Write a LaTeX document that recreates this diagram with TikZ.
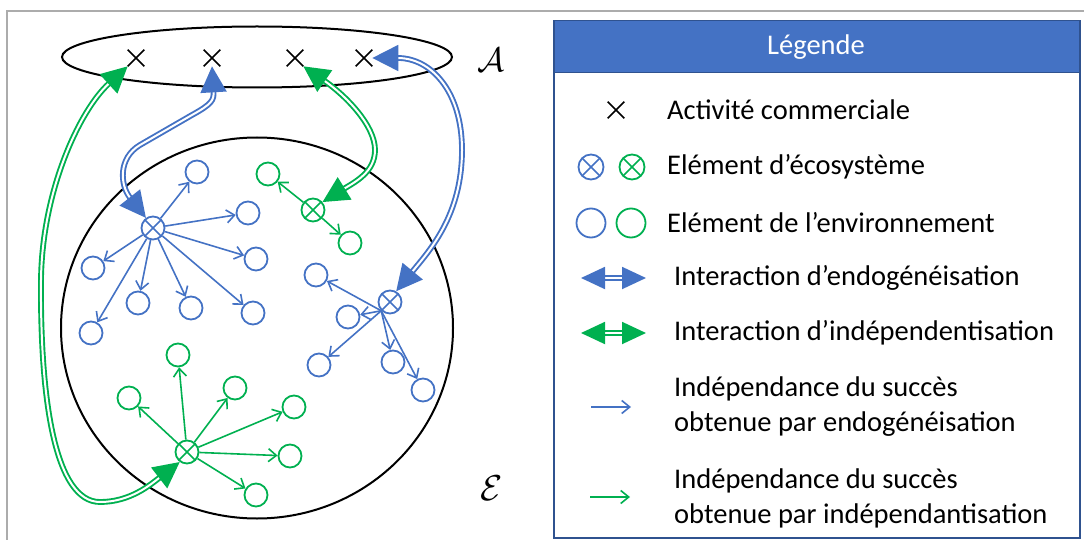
\documentclass[tikz,border=0pt]{standalone}
\usepackage{fontspec}
\setmainfont{Carlito}
\usepackage{xcolor}
\usepackage{tikz}
\usetikzlibrary{shapes.geometric, shapes.misc, arrows.meta, positioning}
\definecolor{eblue}{HTML}{4472C4}
\definecolor{egreen}{HTML}{00B050}
\definecolor{edark}{HTML}{2F528F}

\begin{document}
\begin{tikzpicture}
  [
    x=1pt, y=-1pt,
    >={Straight Barb[length=8pt, width=13pt]},
    Cross/.style={cross out, draw=black, line width=1.7pt, minimum size=15pt, inner sep=0pt},
    BlueEnv/.style={circle, draw=eblue, line width=1.8pt, minimum size=23pt, inner sep=0pt},
    GreenEnv/.style={circle, draw=egreen, line width=1.8pt, minimum size=23pt, inner sep=0pt},
    BlueEco/.style={BlueEnv, path picture={\draw[eblue, line width=1.6pt]
      (path picture bounding box.north west) -- (path picture bounding box.south east)
      (path picture bounding box.north east) -- (path picture bounding box.south west);}},
    GreenEco/.style={GreenEnv, path picture={\draw[egreen, line width=1.6pt]
      (path picture bounding box.north west) -- (path picture bounding box.south east)
      (path picture bounding box.north east) -- (path picture bounding box.south west);}},
    BlueLine/.style={->, draw=eblue, line width=1.6pt},
    GreenLine/.style={->, draw=egreen, line width=1.6pt},
    BlueLink/.style={draw=eblue, line width=1.9pt, double=white, double distance=2pt,
      {Triangle[length=26pt, width=26pt]}-{Triangle[length=26pt, width=26pt]}},
    GreenLink/.style={draw=egreen, line width=1.9pt, double=white, double distance=2pt,
      {Triangle[length=26pt, width=26pt]}-{Triangle[length=26pt, width=26pt]}},
    BlueKey/.style={BlueLink, double distance=1.6pt,
      {Triangle[length=24pt, width=22pt]}-{Triangle[length=24pt, width=22pt]}},
    GreenKey/.style={GreenLink, double distance=1.6pt,
      {Triangle[length=24pt, width=22pt]}-{Triangle[length=24pt, width=22pt]}},
    Text/.style={anchor=west, align=left, inner sep=0pt, font=\fontsize{28.5}{35}\selectfont}
  ]
  \useasboundingbox (0, 0) rectangle (1084, 540);
  \draw[gray!65, line width=2pt] (7, 11) rectangle (1100, 560);
  % Sets
  \node[ellipse, draw, line width=2pt, minimum width=390pt, minimum height=61pt] (act) at (257, 57) {};
  \node[ellipse, draw, line width=2pt, minimum width=392pt, minimum height=381pt] (env) at (257, 328) {};
  \node[scale=3.4] (lA) at (491, 60) {$\mathcal{A}$};
  \node[scale=3.6] (lE) at (492, 488) {$\mathcal{E}$};
  % Activities
  \node[Cross] (X1) at (136, 58) {};
  \node[Cross] (X2) at (212, 58) {};
  \node[Cross] (X3) at (295, 58) {};
  \node[Cross] (X4) at (364, 58) {};
  % Ecosystem elements
  \node[BlueEco] (B1) at (153, 228) {};
  \node[BlueEco] (B2) at (390, 302) {};
  \node[GreenEco] (G1) at (313, 210) {};
  \node[GreenEco] (G2) at (187, 452) {};
  % Environment elements
  \node[BlueEnv] (b1) at (197, 172) {};
  \node[BlueEnv] (b2) at (248, 213) {};
  \node[BlueEnv] (b3) at (256, 259) {};
  \node[BlueEnv] (b4) at (93, 268) {};
  \node[BlueEnv] (b5) at (138, 303) {};
  \node[BlueEnv] (b6) at (191, 308) {};
  \node[BlueEnv] (b7) at (253, 313) {};
  \node[BlueEnv] (b8) at (91, 333) {};
  \node[BlueEnv] (c1) at (316, 275) {};
  \node[BlueEnv] (c2) at (348, 317) {};
  \node[BlueEnv] (c3) at (319, 365) {};
  \node[BlueEnv] (c4) at (393, 362) {};
  \node[BlueEnv] (c5) at (423, 390) {};
  \node[GreenEnv] (g1) at (268, 174) {};
  \node[GreenEnv] (g2) at (350, 243) {};
  \node[GreenEnv] (h1) at (178, 355) {};
  \node[GreenEnv] (h2) at (129, 398) {};
  \node[GreenEnv] (h3) at (235, 388) {};
  \node[GreenEnv] (h4) at (294, 407) {};
  \node[GreenEnv] (h5) at (290, 456) {};
  \node[GreenEnv] (h6) at (256, 495) {};
  % Lines
  \foreach \n in {b1, b2, b3, b4, b5, b6, b7, b8}
    \path [BlueLine] (B1) -- (\n);
  \foreach \n in {c1, c2, c3, c4, c5}
    \path [BlueLine] (B2.225) -- (\n);
  \foreach \n in {g1, g2}
    \path [GreenLine] (G1) -- (\n);
  \foreach \n in {h1, h2, h3, h4, h5, h6}
    \path [GreenLine] (G2) -- (\n);
  % Interactions
  \path [GreenLink] (X1.south west) .. controls (80, 110) and (42, 190) .. (41, 280)
    .. controls (40, 400) and (55, 502) .. (100, 502)
    .. controls (130, 502) and (150, 485) .. (G2.234);
  \path [BlueLink] (X2.south) .. controls (214, 100) and (212, 104) .. (192, 115) -- (140, 145)
    .. controls (118, 158) and (120, 185) .. (B1.125);
  \path [GreenLink] (X3.south east) .. controls (345, 95) and (375, 125) .. (375, 150)
    .. controls (375, 172) and (355, 182) .. (G1.40);
  \path [BlueLink] (X4.east) .. controls (430, 58) and (462, 90) .. (462, 150)
    .. controls (462, 215) and (430, 250) .. (B2.60);
  % Legend
  \node[draw=edark, line width=2pt, minimum width=526pt, minimum height=517pt, anchor=north west] (key) at (553, 20) {};
  \node[draw=edark, fill=eblue, line width=1.5pt, minimum width=526pt, minimum height=52pt, anchor=north west] (head) at (553, 20) {};
  \node[font=\fontsize{28.5}{34}\selectfont, text=white] (title) at (816, 47) {Légende};
  \node[Cross] (kx) at (616, 110) {};
  \node[BlueEco, minimum size=25pt] (keb) at (591, 167) {};
  \node[GreenEco, minimum size=25pt] (keg) at (632, 167) {};
  \node[BlueEnv, minimum size=29pt] (knb) at (591, 223) {};
  \node[GreenEnv, minimum size=29pt] (kng) at (631, 223) {};
  \coordinate (ka1) at (581, 278);
  \coordinate (ka2) at (646, 278);
  \coordinate (kb1) at (581, 333);
  \coordinate (kb2) at (646, 333);
  \coordinate (kc1) at (591, 407);
  \coordinate (kc2) at (631, 407);
  \coordinate (kd1) at (590, 497);
  \coordinate (kd2) at (630, 497);
  \path [BlueKey] (ka1) -- (ka2);
  \path [GreenKey] (kb1) -- (kb2);
  \path [BlueLine] (kc1) -- (kc2);
  \path [GreenLine] (kd1) -- (kd2);
  \node[Text] (t1) at (667, 110) {Activité commerciale};
  \node[Text] (t2) at (667, 167) {Elément d’écosystème};
  \node[Text] (t3) at (667, 223) {Elément de l’environnement};
  \node[Text] (t4) at (674, 278) {Interaction d’endogénéisation};
  \node[Text] (t5) at (674, 333) {Interaction d’indépendentisation};
  \node[Text] (t6) at (674, 407) {Indépendance du succès\\obtenue par endogénéisation};
  \node[Text] (t7) at (674, 498) {Indépendance du succès\\obtenue par indépendantisation};
\end{tikzpicture}
\end{document}
